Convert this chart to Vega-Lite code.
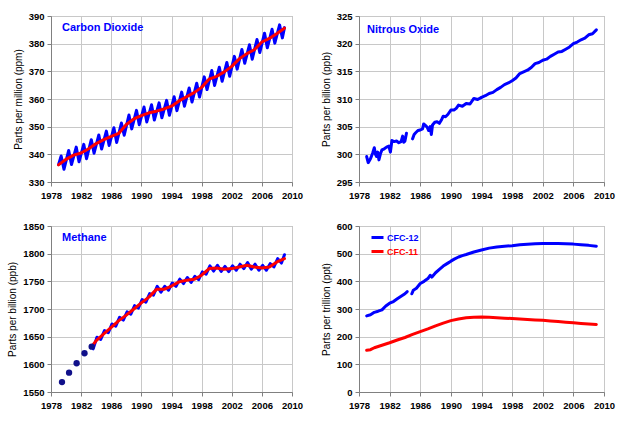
{
  "$schema": "https://vega.github.io/schema/vega-lite/v6.json",
  "background": "white",
  "padding": {"left": 7, "top": 10, "right": 5, "bottom": 5},
  "columns": 2,
  "spacing": {"row": 44, "column": 67},
  "bounds": "flush",
  "resolve": {"scale": {"color": "independent"}, "legend": {"color": "independent"}},
  "config": {
    "font": "Liberation Sans",
    "view": {"stroke": "#a0a0a0", "strokeWidth": 1},
    "axis": {
      "labelFont": "Liberation Sans", "labelFontWeight": "bold", "labelFontSize": 9.5, "labelColor": "#000000",
      "titleFont": "Liberation Sans", "titleFontWeight": "normal", "titleFontSize": 10, "titleColor": "#000000",
      "gridColor": "#c8c8c8", "gridWidth": 1, "domainColor": "#808080", "tickColor": "#808080",
      "tickSize": 4, "labelPadding": 3, "labelOverlap": false, "labelFlush": false, "format": "d"
    },
    "axisY": {"titlePadding": 5},
    "axisX": {"labelPadding": 4},
    "line": {"strokeWidth": 3, "strokeJoin": "round", "strokeCap": "round"},
    "title": {"font": "Liberation Sans", "fontSize": 11, "fontWeight": "bold", "color": "#0000ff", "anchor": "start", "frame": "group", "baseline": "alphabetic"}
  },
  "datasets": {
    "co2_seasonal": [
      {"year": 1979.0, "ppm": 336.3}, {"year": 1979.35, "ppm": 339.4}, {"year": 1979.72, "ppm": 334.6},
      {"year": 1980.35, "ppm": 341.4}, {"year": 1980.72, "ppm": 336.3},
      {"year": 1981.35, "ppm": 342.6}, {"year": 1981.72, "ppm": 337.3},
      {"year": 1982.35, "ppm": 343.6}, {"year": 1982.72, "ppm": 338.4},
      {"year": 1983.35, "ppm": 345.3}, {"year": 1983.72, "ppm": 340.4},
      {"year": 1984.35, "ppm": 347.0}, {"year": 1984.72, "ppm": 341.9},
      {"year": 1985.35, "ppm": 348.4}, {"year": 1985.72, "ppm": 343.2},
      {"year": 1986.35, "ppm": 349.6}, {"year": 1986.72, "ppm": 344.3},
      {"year": 1987.35, "ppm": 351.3}, {"year": 1987.72, "ppm": 346.9},
      {"year": 1988.35, "ppm": 354.2}, {"year": 1988.72, "ppm": 349.2},
      {"year": 1989.35, "ppm": 355.9}, {"year": 1989.72, "ppm": 350.7},
      {"year": 1990.35, "ppm": 357.1}, {"year": 1990.72, "ppm": 351.7},
      {"year": 1991.35, "ppm": 357.9}, {"year": 1991.72, "ppm": 352.4},
      {"year": 1992.35, "ppm": 358.6}, {"year": 1992.72, "ppm": 353.2},
      {"year": 1993.35, "ppm": 359.5}, {"year": 1993.72, "ppm": 354.1},
      {"year": 1994.35, "ppm": 360.8}, {"year": 1994.72, "ppm": 355.8},
      {"year": 1995.35, "ppm": 362.5}, {"year": 1995.72, "ppm": 357.4},
      {"year": 1996.35, "ppm": 364.0}, {"year": 1996.72, "ppm": 358.9},
      {"year": 1997.35, "ppm": 365.7}, {"year": 1997.72, "ppm": 360.7},
      {"year": 1998.35, "ppm": 368.0}, {"year": 1998.72, "ppm": 363.4},
      {"year": 1999.35, "ppm": 370.3}, {"year": 1999.72, "ppm": 364.9},
      {"year": 2000.35, "ppm": 371.5}, {"year": 2000.72, "ppm": 366.4},
      {"year": 2001.35, "ppm": 373.2}, {"year": 2001.72, "ppm": 368.2},
      {"year": 2002.35, "ppm": 375.4}, {"year": 2002.72, "ppm": 370.8},
      {"year": 2003.35, "ppm": 377.9}, {"year": 2003.72, "ppm": 372.9},
      {"year": 2004.35, "ppm": 379.6}, {"year": 2004.72, "ppm": 374.4},
      {"year": 2005.35, "ppm": 381.5}, {"year": 2005.72, "ppm": 376.8},
      {"year": 2006.35, "ppm": 383.8}, {"year": 2006.72, "ppm": 378.5},
      {"year": 2007.35, "ppm": 385.2}, {"year": 2007.72, "ppm": 380.2},
      {"year": 2008.35, "ppm": 386.8}, {"year": 2008.72, "ppm": 382.1},
      {"year": 2009.0, "ppm": 385.8}
    ],
    "co2_trend": [
      {"year": 1979.0, "ppm": 336.2}, {"year": 1980, "ppm": 338.2}, {"year": 1981, "ppm": 339.7},
      {"year": 1982, "ppm": 340.5}, {"year": 1983, "ppm": 342.0}, {"year": 1984, "ppm": 343.9},
      {"year": 1985, "ppm": 345.3}, {"year": 1986, "ppm": 346.5}, {"year": 1987, "ppm": 347.6},
      {"year": 1988, "ppm": 350.8}, {"year": 1989, "ppm": 352.8}, {"year": 1990, "ppm": 354.0},
      {"year": 1991, "ppm": 355.0}, {"year": 1992, "ppm": 355.6}, {"year": 1993, "ppm": 356.4},
      {"year": 1994, "ppm": 357.4}, {"year": 1995, "ppm": 359.3}, {"year": 1996, "ppm": 360.8},
      {"year": 1997, "ppm": 362.3}, {"year": 1998, "ppm": 364.2}, {"year": 1999, "ppm": 367.2},
      {"year": 2000, "ppm": 368.2}, {"year": 2001, "ppm": 369.8}, {"year": 2002, "ppm": 371.8},
      {"year": 2003, "ppm": 374.5}, {"year": 2004, "ppm": 376.4}, {"year": 2005, "ppm": 377.8},
      {"year": 2006, "ppm": 380.6}, {"year": 2007, "ppm": 381.9}, {"year": 2008, "ppm": 383.7},
      {"year": 2009, "ppm": 385.6}
    ],
    "n2o": [
      {"year": 1979.0, "ppb": 299.6, "seg": "a"}, {"year": 1979.2, "ppb": 298.5, "seg": "a"}, {"year": 1979.5, "ppb": 299.2, "seg": "a"},
      {"year": 1979.8, "ppb": 300.3, "seg": "a"}, {"year": 1980.0, "ppb": 301.2, "seg": "a"}, {"year": 1980.15, "ppb": 300.0, "seg": "a"},
      {"year": 1980.3, "ppb": 299.6, "seg": "a"}, {"year": 1980.45, "ppb": 300.4, "seg": "a"}, {"year": 1980.6, "ppb": 299.0, "seg": "a"},
      {"year": 1980.8, "ppb": 300.1, "seg": "a"}, {"year": 1981.0, "ppb": 300.8, "seg": "a"}, {"year": 1981.3, "ppb": 301.0, "seg": "a"},
      {"year": 1981.6, "ppb": 301.3, "seg": "a"}, {"year": 1981.9, "ppb": 301.5, "seg": "a"}, {"year": 1982.1, "ppb": 300.4, "seg": "a"},
      {"year": 1982.3, "ppb": 302.5, "seg": "a"}, {"year": 1982.6, "ppb": 302.3, "seg": "a"}, {"year": 1982.9, "ppb": 302.4, "seg": "a"},
      {"year": 1983.2, "ppb": 302.1, "seg": "a"}, {"year": 1983.5, "ppb": 302.3, "seg": "a"}, {"year": 1983.7, "ppb": 303.3, "seg": "a"},
      {"year": 1983.85, "ppb": 302.2, "seg": "a"}, {"year": 1984.0, "ppb": 302.4, "seg": "a"}, {"year": 1984.2, "ppb": 303.8, "seg": "a"},
      {"year": 1985.0, "ppb": 302.8, "seg": "b"}, {"year": 1985.2, "ppb": 303.6, "seg": "b"}, {"year": 1985.4, "ppb": 303.9, "seg": "b"},
      {"year": 1985.7, "ppb": 304.3, "seg": "b"}, {"year": 1986.0, "ppb": 304.4, "seg": "b"}, {"year": 1986.3, "ppb": 304.6, "seg": "b"},
      {"year": 1986.45, "ppb": 305.5, "seg": "b"}, {"year": 1986.7, "ppb": 305.2, "seg": "b"}, {"year": 1986.9, "ppb": 304.9, "seg": "b"},
      {"year": 1987.1, "ppb": 304.3, "seg": "b"}, {"year": 1987.3, "ppb": 305.0, "seg": "b"}, {"year": 1987.45, "ppb": 303.6, "seg": "b"},
      {"year": 1987.6, "ppb": 305.3, "seg": "b"}, {"year": 1987.9, "ppb": 305.8, "seg": "b"}, {"year": 1988.2, "ppb": 305.9, "seg": "b"},
      {"year": 1988.5, "ppb": 305.6, "seg": "b"}, {"year": 1988.8, "ppb": 306.3, "seg": "b"}, {"year": 1989.0, "ppb": 306.9, "seg": "b"},
      {"year": 1989.3, "ppb": 306.8, "seg": "b"}, {"year": 1989.6, "ppb": 307.2, "seg": "b"}, {"year": 1990.0, "ppb": 308.0, "seg": "b"},
      {"year": 1990.4, "ppb": 308.0, "seg": "b"}, {"year": 1990.7, "ppb": 308.3, "seg": "b"}, {"year": 1991.0, "ppb": 308.9, "seg": "b"},
      {"year": 1991.5, "ppb": 308.7, "seg": "b"}, {"year": 1992.0, "ppb": 309.2, "seg": "b"}, {"year": 1992.5, "ppb": 309.1, "seg": "b"},
      {"year": 1993.0, "ppb": 310.1, "seg": "b"}, {"year": 1993.5, "ppb": 309.9, "seg": "b"}, {"year": 1994.0, "ppb": 310.3, "seg": "b"},
      {"year": 1994.5, "ppb": 310.6, "seg": "b"}, {"year": 1995.0, "ppb": 311.0, "seg": "b"}, {"year": 1995.5, "ppb": 311.2, "seg": "b"},
      {"year": 1996.0, "ppb": 311.7, "seg": "b"}, {"year": 1996.5, "ppb": 312.1, "seg": "b"}, {"year": 1997.0, "ppb": 312.6, "seg": "b"},
      {"year": 1997.5, "ppb": 312.9, "seg": "b"}, {"year": 1998.0, "ppb": 313.3, "seg": "b"}, {"year": 1998.5, "ppb": 313.8, "seg": "b"},
      {"year": 1999.0, "ppb": 314.6, "seg": "b"}, {"year": 1999.5, "ppb": 314.9, "seg": "b"}, {"year": 2000.0, "ppb": 315.2, "seg": "b"},
      {"year": 2000.5, "ppb": 315.7, "seg": "b"}, {"year": 2001.0, "ppb": 316.4, "seg": "b"}, {"year": 2001.5, "ppb": 316.6, "seg": "b"},
      {"year": 2002.0, "ppb": 317.0, "seg": "b"}, {"year": 2002.5, "ppb": 317.2, "seg": "b"}, {"year": 2003.0, "ppb": 317.7, "seg": "b"},
      {"year": 2003.5, "ppb": 318.1, "seg": "b"}, {"year": 2004.0, "ppb": 318.5, "seg": "b"}, {"year": 2004.5, "ppb": 318.6, "seg": "b"},
      {"year": 2005.0, "ppb": 319.0, "seg": "b"}, {"year": 2005.5, "ppb": 319.4, "seg": "b"}, {"year": 2006.0, "ppb": 320.0, "seg": "b"},
      {"year": 2006.5, "ppb": 320.3, "seg": "b"}, {"year": 2007.0, "ppb": 320.7, "seg": "b"}, {"year": 2007.5, "ppb": 321.0, "seg": "b"},
      {"year": 2008.0, "ppb": 321.6, "seg": "b"}, {"year": 2008.5, "ppb": 321.8, "seg": "b"}, {"year": 2009.0, "ppb": 322.5, "seg": "b"}
    ],
    "ch4_early": [
      {"year": 1979.46, "ppb": 1568}, {"year": 1980.4, "ppb": 1585}, {"year": 1981.4, "ppb": 1602},
      {"year": 1982.45, "ppb": 1620}, {"year": 1983.4, "ppb": 1632}
    ],
    "ch4_seasonal": [
      {"year": 1983.6, "ppb": 1628}, {"year": 1984.1, "ppb": 1649}, {"year": 1984.6, "ppb": 1645},
      {"year": 1985.1, "ppb": 1661}, {"year": 1985.6, "ppb": 1657}, {"year": 1986.1, "ppb": 1673},
      {"year": 1986.6, "ppb": 1669}, {"year": 1987.1, "ppb": 1685}, {"year": 1987.6, "ppb": 1680},
      {"year": 1988.1, "ppb": 1695}, {"year": 1988.6, "ppb": 1690.6}, {"year": 1989.1, "ppb": 1706},
      {"year": 1989.6, "ppb": 1701.6}, {"year": 1990.1, "ppb": 1717}, {"year": 1990.6, "ppb": 1712.3},
      {"year": 1991.1, "ppb": 1728}, {"year": 1991.6, "ppb": 1725}, {"year": 1992.1, "ppb": 1741},
      {"year": 1992.6, "ppb": 1730.5}, {"year": 1993.1, "ppb": 1741}, {"year": 1993.6, "ppb": 1734},
      {"year": 1994.1, "ppb": 1747}, {"year": 1994.6, "ppb": 1741}, {"year": 1995.1, "ppb": 1754},
      {"year": 1995.6, "ppb": 1746}, {"year": 1996.1, "ppb": 1757}, {"year": 1996.6, "ppb": 1748},
      {"year": 1997.1, "ppb": 1759}, {"year": 1997.6, "ppb": 1753}, {"year": 1998.1, "ppb": 1767},
      {"year": 1998.6, "ppb": 1763}, {"year": 1999.1, "ppb": 1778}, {"year": 1999.6, "ppb": 1768.6},
      {"year": 2000.1, "ppb": 1779}, {"year": 2000.6, "ppb": 1768}, {"year": 2001.1, "ppb": 1777},
      {"year": 2001.6, "ppb": 1767.6}, {"year": 2002.1, "ppb": 1778}, {"year": 2002.6, "ppb": 1770},
      {"year": 2003.1, "ppb": 1781}, {"year": 2003.6, "ppb": 1773}, {"year": 2004.1, "ppb": 1784},
      {"year": 2004.6, "ppb": 1772}, {"year": 2005.1, "ppb": 1781}, {"year": 2005.6, "ppb": 1770},
      {"year": 2006.1, "ppb": 1779}, {"year": 2006.6, "ppb": 1770}, {"year": 2007.1, "ppb": 1782},
      {"year": 2007.6, "ppb": 1776}, {"year": 2008.1, "ppb": 1791}, {"year": 2008.6, "ppb": 1783},
      {"year": 2009.0, "ppb": 1798}
    ],
    "ch4_trend": [
      {"year": 1983.5, "ppb": 1633.6}, {"year": 1984, "ppb": 1643}, {"year": 1985, "ppb": 1655},
      {"year": 1986, "ppb": 1667}, {"year": 1987, "ppb": 1679}, {"year": 1988, "ppb": 1689},
      {"year": 1989, "ppb": 1700}, {"year": 1990, "ppb": 1711}, {"year": 1991, "ppb": 1721.5},
      {"year": 1992, "ppb": 1735.5}, {"year": 1993, "ppb": 1735.5}, {"year": 1994, "ppb": 1741.5},
      {"year": 1995, "ppb": 1749}, {"year": 1996, "ppb": 1752}, {"year": 1997, "ppb": 1753.6},
      {"year": 1998, "ppb": 1761}, {"year": 1999, "ppb": 1773}, {"year": 2000, "ppb": 1774},
      {"year": 2001, "ppb": 1772}, {"year": 2002, "ppb": 1773}, {"year": 2003, "ppb": 1776},
      {"year": 2004, "ppb": 1779}, {"year": 2005, "ppb": 1776}, {"year": 2006, "ppb": 1774},
      {"year": 2007, "ppb": 1776}, {"year": 2008, "ppb": 1785}, {"year": 2009, "ppb": 1791}
    ],
    "cfc": [
      {"year": 1979.0, "ppt": 275, "gas": "CFC-12", "seg": "12a"}, {"year": 1979.5, "ppt": 279, "gas": "CFC-12", "seg": "12a"},
      {"year": 1980.0, "ppt": 288, "gas": "CFC-12", "seg": "12a"}, {"year": 1980.5, "ppt": 292, "gas": "CFC-12", "seg": "12a"},
      {"year": 1981.0, "ppt": 297, "gas": "CFC-12", "seg": "12a"}, {"year": 1981.5, "ppt": 311, "gas": "CFC-12", "seg": "12a"},
      {"year": 1982.0, "ppt": 321, "gas": "CFC-12", "seg": "12a"}, {"year": 1982.5, "ppt": 327, "gas": "CFC-12", "seg": "12a"},
      {"year": 1983.0, "ppt": 337, "gas": "CFC-12", "seg": "12a"}, {"year": 1983.5, "ppt": 346, "gas": "CFC-12", "seg": "12a"},
      {"year": 1984.0, "ppt": 355, "gas": "CFC-12", "seg": "12a"}, {"year": 1984.3, "ppt": 363, "gas": "CFC-12", "seg": "12a"},
      {"year": 1984.9, "ppt": 355, "gas": "CFC-12", "seg": "12b"}, {"year": 1985.1, "ppt": 368, "gas": "CFC-12", "seg": "12b"},
      {"year": 1985.5, "ppt": 375, "gas": "CFC-12", "seg": "12b"}, {"year": 1986.0, "ppt": 392, "gas": "CFC-12", "seg": "12b"},
      {"year": 1986.5, "ppt": 400, "gas": "CFC-12", "seg": "12b"}, {"year": 1987.0, "ppt": 410, "gas": "CFC-12", "seg": "12b"},
      {"year": 1987.3, "ppt": 422, "gas": "CFC-12", "seg": "12b"}, {"year": 1987.5, "ppt": 415, "gas": "CFC-12", "seg": "12b"},
      {"year": 1988.0, "ppt": 431, "gas": "CFC-12", "seg": "12b"}, {"year": 1988.5, "ppt": 443, "gas": "CFC-12", "seg": "12b"},
      {"year": 1989.0, "ppt": 455, "gas": "CFC-12", "seg": "12b"}, {"year": 1989.5, "ppt": 464, "gas": "CFC-12", "seg": "12b"},
      {"year": 1990.0, "ppt": 473, "gas": "CFC-12", "seg": "12b"}, {"year": 1990.5, "ppt": 481, "gas": "CFC-12", "seg": "12b"},
      {"year": 1991.0, "ppt": 488, "gas": "CFC-12", "seg": "12b"}, {"year": 1991.5, "ppt": 493, "gas": "CFC-12", "seg": "12b"},
      {"year": 1992.0, "ppt": 497, "gas": "CFC-12", "seg": "12b"}, {"year": 1993.0, "ppt": 506, "gas": "CFC-12", "seg": "12b"},
      {"year": 1994.0, "ppt": 513, "gas": "CFC-12", "seg": "12b"}, {"year": 1995.0, "ppt": 520, "gas": "CFC-12", "seg": "12b"},
      {"year": 1996.0, "ppt": 524, "gas": "CFC-12", "seg": "12b"}, {"year": 1997.0, "ppt": 527, "gas": "CFC-12", "seg": "12b"},
      {"year": 1998.0, "ppt": 529, "gas": "CFC-12", "seg": "12b"}, {"year": 1999.0, "ppt": 532, "gas": "CFC-12", "seg": "12b"},
      {"year": 2000.0, "ppt": 534, "gas": "CFC-12", "seg": "12b"}, {"year": 2001.0, "ppt": 535.5, "gas": "CFC-12", "seg": "12b"},
      {"year": 2002.0, "ppt": 537, "gas": "CFC-12", "seg": "12b"}, {"year": 2003.0, "ppt": 537, "gas": "CFC-12", "seg": "12b"},
      {"year": 2004.0, "ppt": 537, "gas": "CFC-12", "seg": "12b"}, {"year": 2005.0, "ppt": 536, "gas": "CFC-12", "seg": "12b"},
      {"year": 2006.0, "ppt": 534.5, "gas": "CFC-12", "seg": "12b"}, {"year": 2007.0, "ppt": 532, "gas": "CFC-12", "seg": "12b"},
      {"year": 2008.0, "ppt": 530, "gas": "CFC-12", "seg": "12b"}, {"year": 2009.0, "ppt": 527, "gas": "CFC-12", "seg": "12b"},
      {"year": 1979.0, "ppt": 151, "gas": "CFC-11", "seg": "11"}, {"year": 1979.5, "ppt": 153, "gas": "CFC-11", "seg": "11"},
      {"year": 1980.0, "ppt": 160, "gas": "CFC-11", "seg": "11"}, {"year": 1981.0, "ppt": 169, "gas": "CFC-11", "seg": "11"},
      {"year": 1982.0, "ppt": 178, "gas": "CFC-11", "seg": "11"}, {"year": 1983.0, "ppt": 188, "gas": "CFC-11", "seg": "11"},
      {"year": 1984.0, "ppt": 197, "gas": "CFC-11", "seg": "11"}, {"year": 1985.0, "ppt": 208, "gas": "CFC-11", "seg": "11"},
      {"year": 1986.0, "ppt": 218, "gas": "CFC-11", "seg": "11"}, {"year": 1987.0, "ppt": 228, "gas": "CFC-11", "seg": "11"},
      {"year": 1988.0, "ppt": 239, "gas": "CFC-11", "seg": "11"}, {"year": 1989.0, "ppt": 249, "gas": "CFC-11", "seg": "11"},
      {"year": 1990.0, "ppt": 258, "gas": "CFC-11", "seg": "11"}, {"year": 1991.0, "ppt": 264, "gas": "CFC-11", "seg": "11"},
      {"year": 1992.0, "ppt": 268, "gas": "CFC-11", "seg": "11"}, {"year": 1993.0, "ppt": 270.5, "gas": "CFC-11", "seg": "11"},
      {"year": 1994.0, "ppt": 271, "gas": "CFC-11", "seg": "11"}, {"year": 1995.0, "ppt": 270, "gas": "CFC-11", "seg": "11"},
      {"year": 1996.0, "ppt": 268.5, "gas": "CFC-11", "seg": "11"}, {"year": 1997.0, "ppt": 267, "gas": "CFC-11", "seg": "11"},
      {"year": 1998.0, "ppt": 265.5, "gas": "CFC-11", "seg": "11"}, {"year": 1999.0, "ppt": 264, "gas": "CFC-11", "seg": "11"},
      {"year": 2000.0, "ppt": 262, "gas": "CFC-11", "seg": "11"}, {"year": 2001.0, "ppt": 260.5, "gas": "CFC-11", "seg": "11"},
      {"year": 2002.0, "ppt": 259, "gas": "CFC-11", "seg": "11"}, {"year": 2003.0, "ppt": 257, "gas": "CFC-11", "seg": "11"},
      {"year": 2004.0, "ppt": 254.5, "gas": "CFC-11", "seg": "11"}, {"year": 2005.0, "ppt": 252.5, "gas": "CFC-11", "seg": "11"},
      {"year": 2006.0, "ppt": 250, "gas": "CFC-11", "seg": "11"}, {"year": 2007.0, "ppt": 248, "gas": "CFC-11", "seg": "11"},
      {"year": 2008.0, "ppt": 246, "gas": "CFC-11", "seg": "11"}, {"year": 2009.0, "ppt": 244, "gas": "CFC-11", "seg": "11"}
    ]
  },
  "concat": [
    {
      "width": 241, "height": 166,
      "title": {"text": "Carbon Dioxide", "offset": -22, "dx": 11},
      "encoding": {
        "x": {"field": "year", "type": "quantitative", "scale": {"domain": [1978, 2010], "nice": false}, "axis": {"values": [1978, 1982, 1986, 1990, 1994, 1998, 2002, 2006, 2010], "title": null, "labelOverlap": false}},
        "y": {"field": "ppm", "type": "quantitative", "scale": {"domain": [330, 390], "nice": false, "zero": false}, "axis": {"values": [330, 340, 350, 360, 370, 380, 390], "title": "Parts per million (ppm)", "labelOverlap": false}}
      },
      "layer": [
        {"data": {"name": "co2_seasonal"}, "mark": {"type": "line", "color": "#0000ff"}},
        {"data": {"name": "co2_trend"}, "mark": {"type": "line", "color": "#ff0000"}}
      ]
    },
    {
      "width": 245, "height": 166,
      "title": {"text": "Nitrous Oxide", "offset": -24, "dx": 8},
      "data": {"name": "n2o"},
      "mark": {"type": "line", "color": "#0000ff"},
      "encoding": {
        "x": {"field": "year", "type": "quantitative", "scale": {"domain": [1978, 2010], "nice": false}, "axis": {"values": [1978, 1982, 1986, 1990, 1994, 1998, 2002, 2006, 2010], "title": null}},
        "y": {"field": "ppb", "type": "quantitative", "scale": {"domain": [295, 325], "nice": false, "zero": false}, "axis": {"values": [295, 300, 305, 310, 315, 320, 325], "title": "Parts per billion (ppb)"}},
        "detail": {"field": "seg", "type": "nominal"}
      }
    },
    {
      "width": 241, "height": 166,
      "title": {"text": "Methane", "offset": -22, "dx": 11},
      "encoding": {
        "x": {"field": "year", "type": "quantitative", "scale": {"domain": [1978, 2010], "nice": false}, "axis": {"values": [1978, 1982, 1986, 1990, 1994, 1998, 2002, 2006, 2010], "title": null, "labelOverlap": false}},
        "y": {"field": "ppb", "type": "quantitative", "scale": {"domain": [1550, 1850], "nice": false, "zero": false}, "axis": {"values": [1550, 1600, 1650, 1700, 1750, 1800, 1850], "title": "Parts per billion (ppb)", "labelOverlap": false}}
      },
      "layer": [
        {"data": {"name": "ch4_seasonal"}, "mark": {"type": "line", "color": "#0000ff"}},
        {"data": {"name": "ch4_trend"}, "mark": {"type": "line", "color": "#ff0000"}},
        {"data": {"name": "ch4_early"}, "mark": {"type": "point", "filled": true, "color": "#10108a", "size": 40, "opacity": 1}}
      ]
    },
    {
      "width": 245, "height": 166,
      "data": {"name": "cfc"},
      "mark": {"type": "line"},
      "encoding": {
        "x": {"field": "year", "type": "quantitative", "scale": {"domain": [1978, 2010], "nice": false}, "axis": {"values": [1978, 1982, 1986, 1990, 1994, 1998, 2002, 2006, 2010], "title": null}},
        "y": {"field": "ppt", "type": "quantitative", "scale": {"domain": [0, 600], "nice": false}, "axis": {"values": [0, 100, 200, 300, 400, 500, 600], "title": "Parts per trillion (ppt)"}},
        "color": {
          "field": "gas", "type": "nominal",
          "scale": {"domain": ["CFC-12", "CFC-11"], "range": ["#0000ff", "#ff0000"]},
          "legend": {
            "title": null, "orient": "none", "legendX": 11, "legendY": 4, "padding": 0,
            "symbolType": "stroke", "symbolSize": 144, "symbolStrokeWidth": 3, "rowPadding": 1,
            "labelFont": "Liberation Sans", "labelFontWeight": "bold", "labelFontSize": 9, "labelOffset": 2,
            "labelColor": {"expr": "datum.label == 'CFC-12' ? '#0000ff' : '#ff0000'"}
          }
        },
        "detail": {"field": "seg", "type": "nominal"}
      }
    }
  ]
}
